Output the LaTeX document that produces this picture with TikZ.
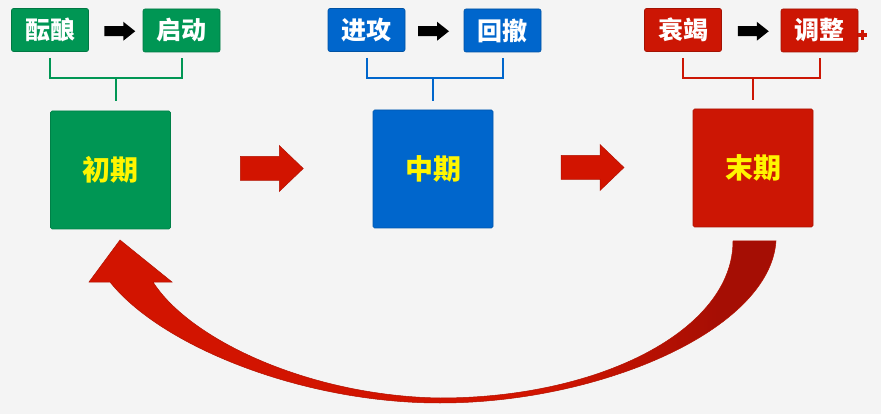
\documentclass[tikz,border=0pt]{standalone}
\usepackage{fontspec}
\newfontfamily\cjk{Noto Sans CJK SC}
\usetikzlibrary{calc}

\definecolor{bgcol}{RGB}{244,244,244}
\definecolor{gcol}{RGB}{0,150,84}
\definecolor{bcol}{RGB}{0,102,204}
\definecolor{rcol}{RGB}{204,22,4}
\definecolor{arrowred}{RGB}{210,20,0}
\definecolor{arrowdark}{RGB}{165,14,4}
\definecolor{txtyellow}{RGB}{255,245,0}

% red on the left part of the return arrow, darkening towards its tail
\pgfdeclarehorizontalshading{returnshade}{100bp}{%
  color(0bp)=(arrowred); color(58bp)=(arrowred);
  color(71bp)=(arrowdark); color(100bp)=(arrowdark)}

\tikzset{
  stagetag/.style={draw=#1!80!black, line width=0.6pt, fill=#1, rounded corners=2pt,
    minimum width=77pt, minimum height=43pt, inner sep=0pt, text=white,
    font=\cjk\bfseries\fontsize{25}{25}\selectfont},
  phasebox/.style={draw=#1!85!black, line width=0.6pt, fill=#1, rounded corners=1.5pt,
    minimum width=120pt, minimum height=118pt, inner sep=0pt, text=txtyellow,
    font=\cjk\bfseries\fontsize{28}{28}\selectfont},
  bracketline/.style={draw=#1, line width=2pt},
  smallarrow/.pic={
    \fill[black] (-15.5,-5) -- (3.5,-5) -- (3.5,-9.5) -- (15.5,0)
      -- (3.5,9.5) -- (3.5,5) -- (-15.5,5) -- cycle;},
  bigarrow/.pic={
    \filldraw[fill=arrowred, draw=arrowred!85!black, line width=0.5pt]
      (-31.5,-12) -- (7.5,-12) -- (7.5,-23) -- (31.5,0)
      -- (7.5,23) -- (7.5,12) -- (-31.5,12) -- cycle;},
}

\begin{document}
\begin{tikzpicture}[x=1pt, y=-1pt]
  % canvas
  \fill[bgcol] (0,0) rectangle (881,414);
  \useasboundingbox (0,0) rectangle (881,414);
  \coordinate (hbar) at (0,78);

  % early stage
  \node[stagetag=gcol] (g1) at (50,30) {酝酿};
  \node[stagetag=gcol] (g2) at (181.5,30.5) {启动};
  \node[phasebox=gcol] (gm) at (110.5,170) {初期};
  \pic (ga) at ($(g1.east)!0.5!(g2.west)+(4,1)$) {smallarrow};
  \draw[bracketline=gcol] ([yshift=-6pt]g1.south) -- (g1 |- hbar) -- (g2 |- hbar) -- ([yshift=-6pt]g2.south);
  \draw[bracketline=gcol] ($(g1 |- hbar)!0.5!(g2 |- hbar)$) -- ($(g1 |- hbar)!0.5!(g2 |- hbar)+(0,23)$);

  % middle stage
  \node[stagetag=bcol] (b1) at (366.5,30) {进攻};
  \node[stagetag=bcol] (b2) at (502.5,30.5) {回撤};
  \node[phasebox=bcol] (bm) at (433,169) {中期};
  \pic (ba) at ($(b1.east)!0.5!(b2.west)+(-1,1)$) {smallarrow};
  \draw[bracketline=bcol] ([yshift=-6pt]b1.south) -- (b1 |- hbar) -- (b2 |- hbar) -- ([yshift=-6pt]b2.south);
  \draw[bracketline=bcol] (bm.north |- hbar) -- ([yshift=9pt]bm.north);

  % late stage
  \node[stagetag=rcol] (r1) at (683,30) {衰竭};
  \node[stagetag=rcol] (r2) at (819.5,30.5) {调整};
  \node[phasebox=rcol] (rm) at (753,168) {末期};
  \pic (ra) at ($(r1.east)!0.5!(r2.west)+(2,1)$) {smallarrow};
  \draw[bracketline=rcol] ([yshift=-6pt]r1.south) -- (r1 |- hbar) -- (r2 |- hbar) -- ([yshift=-6pt]r2.south);
  \draw[bracketline=rcol] (rm.north |- hbar) -- ([yshift=9pt]rm.north);

  % small marker beside the last tag
  \draw[rcol, line width=3.4pt] (857.5,35) -- (867,35) (862.2,30.3) -- (862.2,39.7);

  % block arrows between the phases
  \pic (a1) at ($(gm.east)!0.5!(bm.west)+(0,-1)$) {bigarrow};
  \pic (a2) at ($(bm.east)!0.5!(rm.west)+(-0.5,-1)$) {bigarrow};

  % sweeping return arrow from the late phase back to the early phase
  \shade[shading=returnshade, draw=arrowred!85!black, line width=0.5pt]
    (776,241) .. controls (770,330) and (600,403) .. (440,403)
              .. controls (300,403) and (160,345) .. (110,282)
    -- (89,282) -- (120,240) -- (172,282) -- (153,282)
              .. controls (190,340) and (310,396) .. (440,398)
              .. controls (600,398) and (733,330) .. (733,241)
    -- cycle;
\end{tikzpicture}
\end{document}
